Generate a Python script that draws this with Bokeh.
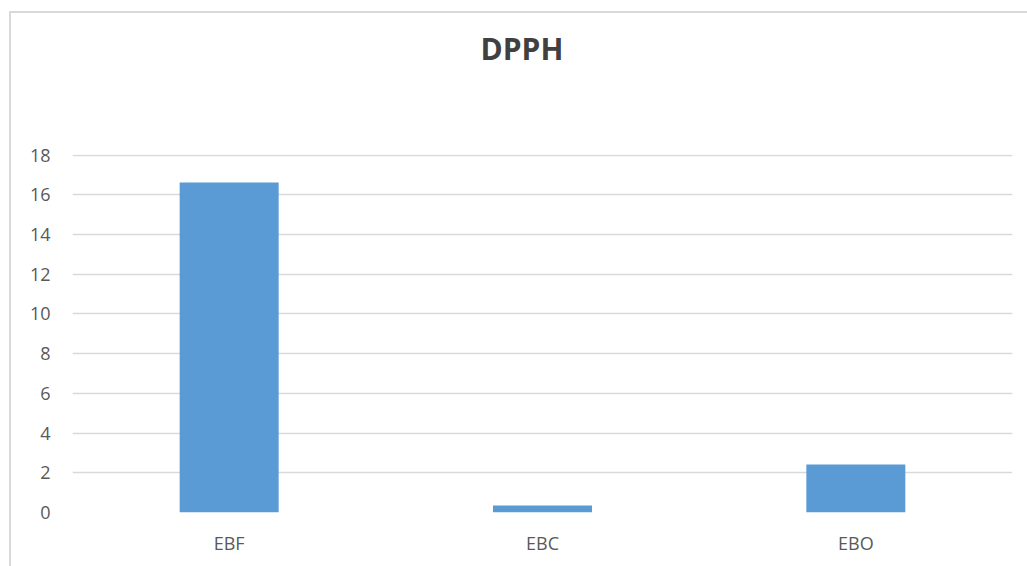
from bokeh.plotting import figure
from bokeh.models import ColumnDataSource, Range1d, FactorRange, FixedTicker, Title
from bokeh.embed import file_html
from bokeh.resources import INLINE

# DPPH results per extract
categories = ["EBF", "EBC", "EBO"]
dpph_values = [16.62, 0.35, 2.42]
y_ticks = [0, 2, 4, 6, 8, 10, 12, 14, 16, 18]

source = ColumnDataSource(data=dict(cat=categories, val=dpph_values))

# the chart area is offset and framed on its left and top edges
OFF_X, OFF_Y, BW = 9, 11, 2

p = figure(
    width=1027 - OFF_X - BW, height=566 - OFF_Y - BW,
    x_range=FactorRange(*categories, range_padding=0),
    y_range=Range1d(0, 18.03),
    output_backend="svg", toolbar_location=None,
    min_border_left=61, min_border_right=17,
    min_border_top=141, min_border_bottom=56,
    title=None,
)
p.styles = {
    "box-sizing": "content-box",
    "margin-left": f"{OFF_X}px",
    "margin-top": f"{OFF_Y}px",
    "border-left": f"{BW}px solid #d9d9d9",
    "border-top": f"{BW}px solid #d9d9d9",
}

p.vbar(x="cat", top="val", width=0.316, source=source,
       fill_color="#5B9BD5", line_color=None)

# blank band between the heading and the plot area
p.add_layout(Title(text=" ", text_font="Open Sans", text_font_size="58px",
                   standoff=0), "above")
p.add_layout(Title(text="DPPH", align="left", offset=408, standoff=10,
                   text_font="Open Sans", text_font_size="30px",
                   text_font_style="bold", text_color="#404040"), "above")

p.outline_line_color = None
p.background_fill_color = "white"
p.border_fill_color = "white"

p.xgrid.grid_line_color = None
p.ygrid.grid_line_color = "#d9d9d9"
p.ygrid.grid_line_width = 1.5
p.yaxis.ticker = FixedTicker(ticks=y_ticks)

for ax in (p.xaxis, p.yaxis):
    ax.axis_line_color = None
    ax.major_tick_line_color = None
    ax.minor_tick_line_color = None
    ax.major_label_text_font = "Open Sans"
    ax.major_label_text_font_size = "18px"
    ax.major_label_text_color = "#595959"

p.yaxis.major_label_standoff = 16
p.xaxis.major_label_standoff = 12

open("out.html", "w").write(file_html(p, INLINE))
